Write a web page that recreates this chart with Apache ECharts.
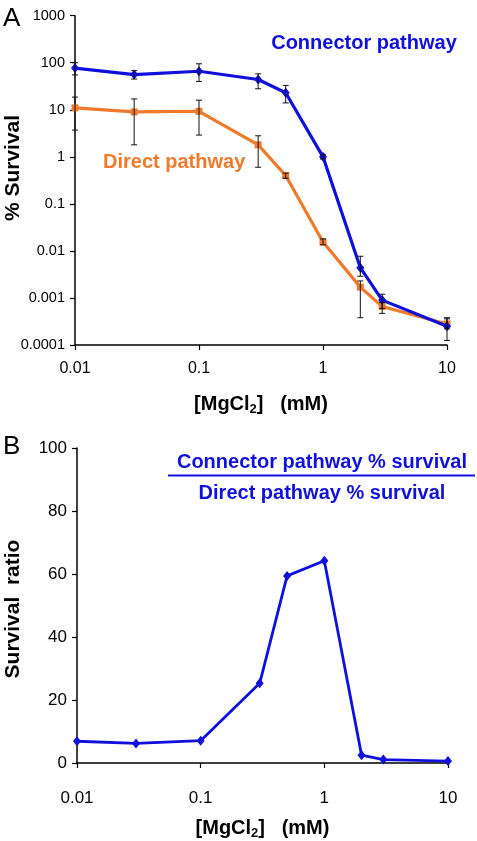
<!DOCTYPE html>
<html>
<head>
<meta charset="utf-8">
<script src="https://cdn.jsdelivr.net/npm/echarts@6/dist/echarts.min.js"></script>
<style>
html,body{margin:0;padding:0;background:#fff;}
#c{width:477px;height:841px;}
</style>
</head>
<body>
<div id="c"></div>
<script>
// ---- data ----
const mgcl2 = [0.01, 0.03, 0.1, 0.3, 0.5, 1, 2, 3, 10];
const connectorSurvival = [77, 56, 66, 44, 23, 1.0, 0.0044, 0.0009, 0.00025];
const connectorLow  = [55, 45, 40, 28, 14, 0.9, 0.0029, 0.0006, 0.000125];
const connectorHigh = [100, 68, 95, 58, 33, 1.1, 0.0077, 0.0012, 0.00036];
const directSurvival = [11, 9, 9.3, 1.8, 0.4, 0.0155, 0.0017, 0.00066, 0.00028];
const directLow  = [3.7, 1.8, 2.9, 0.6, 0.35, 0.0135, 0.00038, 0.00047, 0.00022];
const directHigh = [18.6, 17, 16, 2.8, 0.45, 0.018, 0.0023, 0.0008, 0.00038];
const survivalRatio = [6.9, 6.2, 7.1, 25.3, 59.4, 64.2, 2.5, 1.1, 0.6];
const xTickLabels = ['0.01', '0.1', '1', '10'];
const yTopTickLabels = ['0.0001', '0.001', '0.01', '0.1', '1', '10', '100', '1000'];
const yBottomTickLabels = ['0', '20', '40', '60', '80', '100'];

const BLUE = '#1010dc';
const ORANGE = '#f07a2c';
const TICKFONT = "'Liberation Sans', Arial, sans-serif";
const BOLD = "'Liberation Sans', Arial, sans-serif";

function logLabel(list) {
  return function (v) {
    for (const s of list) {
      if (Math.abs(Math.log10(v) - Math.log10(parseFloat(s))) < 1e-6) return s;
    }
    return '';
  };
}

const axisCommon = {
  splitLine: { show: false },
  axisLine: { show: true, onZero: false, lineStyle: { color: '#000', width: 1.5 } },
  axisTick: { show: true, inside: false, length: 5, lineStyle: { color: '#000', width: 1.2 } },
  minorTick: { show: false }
};

function errRender(params, api) {
  const x = api.value(0), lo = api.value(1), hi = api.value(2);
  const p1 = api.coord([x, hi]);
  const p2 = api.coord([x, lo]);
  const w = 3;
  const st = { stroke: '#111', lineWidth: 1 };
  return {
    type: 'group',
    children: [
      { type: 'line', shape: { x1: p1[0], y1: p1[1], x2: p2[0], y2: p2[1] }, style: st },
      { type: 'line', shape: { x1: p1[0] - w, y1: p1[1], x2: p1[0] + w, y2: p1[1] }, style: st },
      { type: 'line', shape: { x1: p2[0] - w, y1: p2[1], x2: p2[0] + w, y2: p2[1] }, style: st }
    ]
  };
}

const xName = {
  text: '{b|[MgCl}{s|2}{b|]   (mM)}',
  rich: {
    b: { fontFamily: BOLD, fontWeight: 'bold', fontSize: 20, color: '#000' },
    s: { fontFamily: BOLD, fontWeight: 'bold', fontSize: 13, color: '#000', padding: [10, 0, 0, 0] }
  }
};

const chart = echarts.init(document.getElementById('c'), null, { renderer: 'canvas' });
chart.setOption({
  animation: false,
  backgroundColor: '#fff',
  grid: [
    { left: 75, right: 30, top: 15.7, height: 329.3, containLabel: false },
    { left: 77, right: 29, top: 448, height: 325, containLabel: false }
  ],
  xAxis: [
    Object.assign({}, axisCommon, {
      gridIndex: 0, type: 'log', logBase: 10, min: 0.01, max: 10, interval: 1,
      axisLabel: { formatter: logLabel(xTickLabels), fontFamily: TICKFONT, fontSize: 16, color: '#000', margin: 16 },
      name: xName.text, nameLocation: 'middle', nameGap: 48,
      nameTextStyle: { rich: xName.rich }
    }),
    Object.assign({}, axisCommon, {
      gridIndex: 1, type: 'log', logBase: 10, min: 0.01, max: 10, interval: 1,
      axisLabel: { formatter: logLabel(xTickLabels), fontFamily: TICKFONT, fontSize: 17, color: '#000', margin: 27 },
      name: xName.text, nameLocation: 'middle', nameGap: 54,
      nameTextStyle: { rich: xName.rich }
    })
  ],
  yAxis: [
    Object.assign({}, axisCommon, {
      gridIndex: 0, type: 'log', logBase: 10, min: 0.0001, max: 1000, interval: 1,
      axisLabel: { formatter: logLabel(yTopTickLabels), fontFamily: TICKFONT, fontSize: 14.5, color: '#000', margin: 10 }
    }),
    Object.assign({}, axisCommon, {
      gridIndex: 1, type: 'value', min: 0, max: 100, interval: 20,
      axisLabel: {
        formatter: function (v) { return yBottomTickLabels[Math.round(v / 20)]; },
        fontFamily: TICKFONT, fontSize: 17, color: '#000', margin: 10
      }
    })
  ],
  series: [
    {
      type: 'line', xAxisIndex: 0, yAxisIndex: 0, name: 'Direct pathway',
      data: mgcl2.map((x, i) => [x, directSurvival[i]]),
      lineStyle: { color: ORANGE, width: 3.2 },
      itemStyle: { color: ORANGE },
      symbol: 'rect', symbolSize: 7, z: 3
    },
    {
      type: 'line', xAxisIndex: 0, yAxisIndex: 0, name: 'Connector pathway',
      data: mgcl2.map((x, i) => [x, connectorSurvival[i]]),
      lineStyle: { color: BLUE, width: 3.2 },
      itemStyle: { color: BLUE },
      symbol: 'diamond', symbolSize: [8, 10], z: 4
    },
    {
      type: 'custom', xAxisIndex: 0, yAxisIndex: 0,
      data: mgcl2.map((x, i) => [x, directLow[i], directHigh[i]]),
      encode: { x: 0, y: [1, 2] }, renderItem: errRender, z: 5
    },
    {
      type: 'custom', xAxisIndex: 0, yAxisIndex: 0,
      data: mgcl2.map((x, i) => [x, connectorLow[i], connectorHigh[i]]),
      encode: { x: 0, y: [1, 2] }, renderItem: errRender, z: 5
    },
    {
      type: 'line', xAxisIndex: 1, yAxisIndex: 1, name: 'Survival ratio',
      data: mgcl2.map((x, i) => [x, survivalRatio[i]]),
      lineStyle: { color: BLUE, width: 2.8 },
      itemStyle: { color: BLUE },
      symbol: 'diamond', symbolSize: [8, 10], z: 4
    }
  ],
  graphic: [
    { type: 'text', left: 3, top: 6, style: { text: 'A', fontFamily: BOLD, fontSize: 26, fill: '#000' } },
    { type: 'text', left: 3, top: 434, style: { text: 'B', fontFamily: BOLD, fontSize: 26, fill: '#000' } },
    { type: 'text', x: 364, y: 43, style: { text: 'Connector pathway', fontFamily: BOLD, fontWeight: 'bold', fontSize: 20, fill: BLUE, align: 'center', verticalAlign: 'middle' } },
    { type: 'text', x: 103, y: 162, style: { text: 'Direct pathway', fontFamily: BOLD, fontWeight: 'bold', fontSize: 20, fill: ORANGE, align: 'left', verticalAlign: 'middle' } },
    { type: 'text', x: 13, y: 168, rotation: Math.PI / 2, style: { text: '% Survival', fontFamily: BOLD, fontWeight: 'bold', fontSize: 21, fill: '#000', align: 'center', verticalAlign: 'middle' } },
    { type: 'text', x: 13, y: 609, rotation: Math.PI / 2, style: { text: 'Survival  ratio', fontFamily: BOLD, fontWeight: 'bold', fontSize: 21, fill: '#000', align: 'center', verticalAlign: 'middle' } },
    { type: 'text', x: 322, y: 462, style: { text: 'Connector pathway % survival', fontFamily: BOLD, fontWeight: 'bold', fontSize: 20, fill: BLUE, align: 'center', verticalAlign: 'middle' } },
    { type: 'line', shape: { x1: 168, y1: 475.5, x2: 475, y2: 475.5 }, style: { stroke: BLUE, lineWidth: 2 } },
    { type: 'text', x: 322, y: 493, style: { text: 'Direct pathway % survival', fontFamily: BOLD, fontWeight: 'bold', fontSize: 20, fill: BLUE, align: 'center', verticalAlign: 'middle' } }
  ]
});
</script>
</body>
</html>
